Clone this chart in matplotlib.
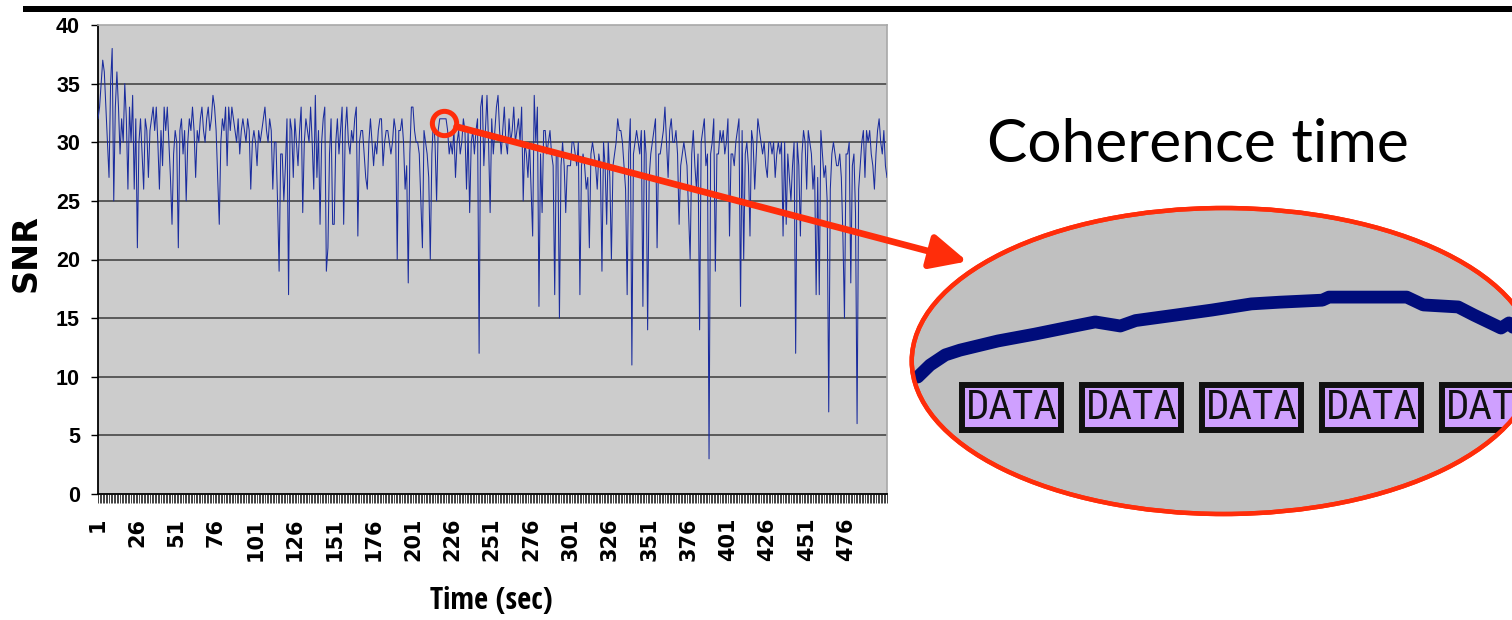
import numpy as np
import matplotlib
matplotlib.use("Agg")
import matplotlib.pyplot as plt
from matplotlib.patches import Ellipse, Rectangle, ConnectionPatch, ArrowStyle
from matplotlib import font_manager as fm

# ---------------- data ----------------
snr = [
    32, 33, 35, 37, 36, 33, 30, 27, 35, 38, 25, 33, 36, 33, 29, 32, 30, 35, 32, 26, 33, 30, 34, 26, 32,
    21, 30, 32, 29, 26, 32, 31, 27, 31, 32, 33, 31, 33, 30, 26, 31, 28, 33, 31, 33, 30, 27, 23, 29, 31,
    30, 21, 31, 32, 29, 31, 25, 30, 32, 31, 33, 31, 27, 31, 30, 32, 33, 31, 30, 32, 33, 31, 32, 34, 33,
    31, 27, 23, 30, 32, 31, 33, 28, 33, 31, 33, 32, 31, 30, 32, 29, 31, 32, 31, 30, 32, 31, 26, 30, 31,
    30, 28, 31, 30, 31, 32, 33, 31, 30, 32, 31, 26, 30, 30, 25, 19, 29, 29, 25, 28, 32, 17, 32, 31, 27,
    32, 30, 28, 31, 33, 24, 30, 32, 31, 30, 33, 30, 26, 34, 27, 31, 23, 30, 32, 33, 19, 21, 29, 32, 23,
    23, 30, 32, 29, 31, 33, 23, 31, 33, 30, 29, 31, 30, 32, 33, 22, 30, 31, 31, 29, 27, 26, 30, 32, 30,
    28, 30, 29, 31, 32, 32, 28, 30, 31, 31, 30, 29, 30, 32, 31, 20, 31, 31, 32, 30, 26, 28, 18, 29, 33,
    33, 31, 30, 30, 29, 25, 21, 31, 30, 29, 27, 20, 29, 32, 30, 25, 31, 32, 32, 32, 32, 32, 31, 29, 30,
    29, 31, 27, 30, 31, 29, 30, 32, 31, 26, 31, 24, 30, 31, 29, 31, 32, 12, 33, 34, 28, 31, 34, 30, 24,
    32, 29, 31, 33, 34, 31, 29, 31, 33, 30, 29, 32, 30, 31, 33, 30, 31, 32, 30, 33, 25, 30, 29, 27, 30,
    26, 22, 34, 30, 33, 16, 29, 24, 31, 31, 29, 30, 31, 29, 28, 17, 29, 29, 15, 28, 30, 28, 24, 28, 28,
    28, 30, 30, 29, 28, 30, 17, 28, 29, 28, 26, 27, 21, 29, 30, 29, 28, 26, 29, 28, 19, 30, 28, 23, 30,
    27, 20, 28, 29, 30, 32, 31, 31, 30, 28, 26, 17, 29, 32, 11, 29, 30, 31, 30, 29, 31, 16, 31, 29, 14,
    27, 29, 30, 31, 32, 21, 29, 29, 30, 31, 33, 30, 27, 31, 32, 30, 30, 31, 29, 23, 28, 29, 30, 29, 28,
    24, 20, 29, 31, 28, 26, 29, 14, 30, 31, 32, 28, 29, 3, 29, 30, 32, 19, 29, 29, 31, 30, 31, 29, 30,
    32, 22, 29, 29, 28, 30, 31, 32, 16, 31, 20, 29, 30, 28, 22, 31, 30, 26, 29, 32, 31, 30, 29, 30, 28,
    27, 30, 30, 29, 30, 27, 29, 30, 29, 30, 22, 30, 23, 29, 27, 25, 28, 30, 12, 30, 28, 22, 29, 31, 30,
    26, 31, 30, 29, 26, 28, 17, 27, 17, 31, 29, 27, 28, 25, 7, 26, 29, 30, 29, 28, 28, 29, 27, 22, 15,
    29, 29, 30, 18, 28, 29, 24, 6, 26, 28, 30, 31, 27, 31, 30, 31, 29, 28, 26, 29, 31, 32, 30, 29, 31, 28, 27,
]
time_sec = list(range(1, len(snr) + 1))
x_tick_values = list(range(1, 477, 25))
x_tick_labels = [str(v) for v in x_tick_values]
y_tick_values = [0, 5, 10, 15, 20, 25, 30, 35, 40]
y_tick_labels = [str(v) for v in y_tick_values]

highlight_time = 221
highlight_snr = 31.6

# magnified view shown inside the ellipse (inset units 0..100)
inset_curve_x = [2.9, 4.9, 7.4, 9.8, 16.0, 22.0, 28.0, 31.9, 36.0, 38.5, 45.0, 51.0, 57.4, 62.0, 69.0, 70.1, 82.8, 85.5, 91.2, 93.8, 98.2, 99.5, 101.0]
inset_curve_y = [45.0, 48.5, 51.5, 52.9, 55.6, 57.6, 59.8, 61.2, 60.0, 61.6, 63.2, 64.7, 66.5, 67.0, 67.6, 68.5, 68.5, 66.2, 65.6, 63.2, 59.4, 60.9, 58.0]
data_box_left = [9.64, 29.25, 48.86, 68.46, 88.07]
data_box_label = ["DATA", "DATA", "DATA", "DATA", "DATA"]

# ---------------- fonts ----------------
def find_font(prefs, bold):
    """Return FontProperties of a condensed / narrow face if installed."""
    for f in fm.fontManager.ttflist:
        if f.name in prefs and (("bold" in str(f.weight)) or (isinstance(f.weight, int) and f.weight >= 600)) == bold \
                and f.style == "normal":
            return fm.FontProperties(fname=f.fname)
    for f in fm.fontManager.ttflist:
        if f.stretch in ("condensed", "semi-condensed", "extra-condensed") and f.style == "normal":
            isb = ("bold" in str(f.weight)) or (isinstance(f.weight, int) and f.weight >= 600)
            if isb == bold:
                return fm.FontProperties(fname=f.fname)
    return None


narrow_prefs = ["Liberation Sans Narrow", "Roboto Condensed", "Open Sans Condensed", "Noto Sans Condensed",
                "DejaVu Sans Condensed", "Arial Narrow"]
NARROW_B = find_font(narrow_prefs, True)
NARROW_R = find_font(narrow_prefs, False)

# ---------------- figure ----------------
W, H = 1512, 620
fig = plt.figure(figsize=(W / 100, H / 100), dpi=100)
fig.patch.set_facecolor("white")


def fx(px):
    return px / W


def fy(py):
    return 1 - py / H


ax = fig.add_axes([fx(98), fy(494), (887 - 98) / W, (494 - 25) / H])
ax.set_facecolor("#CCCCCC")
ax.plot(time_sec, snr, color="#1A2C9E", lw=0.75, zorder=3)
ax.set_xlim(1, len(snr))
ax.set_ylim(0, 40)

for yv in y_tick_values[1:-1]:
    ax.axhline(yv, color="#3A3A3A", lw=1.1, zorder=2)

for s in ("left", "bottom"):
    ax.spines[s].set_color("black")
    ax.spines[s].set_linewidth(1.3)
for s in ("top", "right"):
    ax.spines[s].set_color("#A8A8A8")
    ax.spines[s].set_linewidth(1.2)

ax.set_yticks(y_tick_values)
ax.set_yticklabels(y_tick_labels, fontfamily="Liberation Sans", fontweight="bold", fontsize=15.5)
ax.tick_params(axis="y", length=5, width=1, pad=8, direction="out", color="black")

ax.xaxis.remove_overlapping_locs = False
ax.set_xticks(x_tick_values)
ax.set_xticklabels(x_tick_labels, rotation=90, fontfamily="DejaVu Sans", fontweight="bold", fontsize=15)
ax.set_xticks(time_sec, minor=True)
ax.tick_params(axis="x", which="major", length=0, pad=17)
ax.tick_params(axis="x", which="minor", length=6.5, width=0.6, color="#222222", direction="out")

# highlight circle
red = "#FF2D0A"
ax.plot([highlight_time], [highlight_snr], marker="o", ms=17.5, mfc="none", mec=red, mew=3.6,
        zorder=8, clip_on=False)

# axis titles
fig.text(fx(26), fy(253), "SNR", rotation=90, ha="center", va="center",
         fontfamily="DejaVu Sans", fontweight="bold", fontsize=24)
if NARROW_B is not None:
    fp = NARROW_B.copy()
    fp.set_size(22)
    fig.text(fx(491), fy(601), "Time (sec)", ha="center", va="center", fontproperties=fp)
else:
    fig.text(fx(491), fy(601), "Time (sec)", ha="center", va="center",
             fontfamily="Liberation Sans", fontweight="bold", fontsize=19)

# top black bar
fig.add_artist(Rectangle((fx(23), fy(12)), 1 - fx(23), 6 / H, transform=fig.transFigure,
                         facecolor="black", edgecolor="none"))

# Coherence time label
fig.text(fx(1198), fy(162), "Coherence time", ha="center", va="baseline",
         fontfamily="Lato", fontsize=43.5, color="black")

# ---------------- inset ellipse ----------------
ax2 = fig.add_axes([fx(900), fy(530), 612 / W, 340 / H])
ax2.set_xlim(0, 100)
ax2.set_ylim(0, 100)
ax2.axis("off")
ell = Ellipse((52.9, 49.7), 101.96, 90, facecolor="#C0C0C0", edgecolor=red, lw=3.2, zorder=1)
ax2.add_patch(ell)
ln, = ax2.plot(inset_curve_x, inset_curve_y, color="#000C7B", lw=9.2, solid_capstyle="round",
               solid_joinstyle="round", zorder=3)
ln.set_clip_path(ell)

hw, hv = 0.49, 0.88
for x0, lab in zip(data_box_left, data_box_label):
    r = Rectangle((x0 + hw, 28.5 + hv), 17.2 - 2 * hw, 15 - 2 * hv, facecolor="#CFA0FF",
                  edgecolor="#111111", lw=4.3, zorder=4)
    ax2.add_patch(r)
    r.set_clip_path(ell)
    if NARROW_R is not None:
        fp = NARROW_R.copy()
        fp.set_size(29.5)
        tx = ax2.text(x0 + 8.6, 36.0, lab, ha="center", va="center", fontproperties=fp,
                      color="#111111", zorder=5)
    else:
        tx = ax2.text(x0 + 8.6, 36.0, lab, ha="center", va="center", fontsize=22,
                      fontfamily="Liberation Sans", color="#111111", zorder=5)
    tx.set_clip_path(ell)

# re-draw the ellipse outline on top
ax2.add_patch(Ellipse((52.9, 49.7), 101.96, 90, facecolor="none", edgecolor=red, lw=3.2, zorder=6))

# arrow from highlighted point to the ellipse
con = ConnectionPatch(xyA=(highlight_time, highlight_snr), coordsA="data", axesA=ax,
                      xyB=(11.0, 79.0), coordsB="data", axesB=ax2,
                      arrowstyle=ArrowStyle("-|>", head_length=22, head_width=10.5),
                      mutation_scale=1, lw=4.8, color=red, shrinkA=9, shrinkB=0, zorder=10)
fig.add_artist(con)

fig.savefig("out.png", dpi=100)
